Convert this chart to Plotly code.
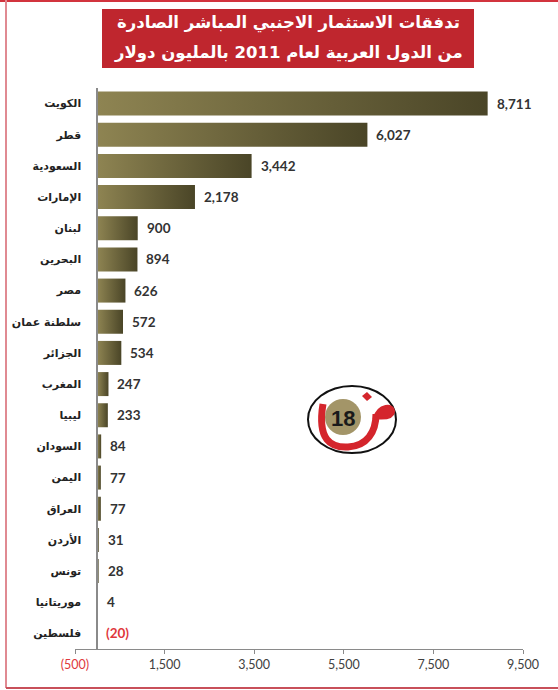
import plotly.graph_objects as go

# data (million USD, 2011)
countries = ["الكويت", "قطر", "السعودية", "الإمارات", "لبنان", "البحرين", "مصر",
             "سلطنة عمان", "الجزائر", "المغرب", "ليبيا", "السودان", "اليمن",
             "العراق", "الأردن", "تونس", "موريتانيا", "فلسطين"]
values = [8711, 6027, 3442, 2178, 900, 894, 626, 572, 534, 247, 233, 84, 77,
          77, 31, 28, 4, -20]
x_ticks = [-500, 1500, 3500, 5500, 7500, 9500]
title_lines = ["تدفقات الاستثمار الاجنبي المباشر الصادرة",
               "من الدول العربية لعام 2011 بالمليون دولار"]

W, H = 558, 690
L, R, T, B = 75, 523, 88, 649
X_MIN, X_MAX = -500, 9500
BAR_HALF = 0.385

LIGHT = "#8e8452"
DARK = "#4a4527"
RED = "#e0383c"


def px(x):
    return (x - L) / (R - L)


def py(y):
    return (B - y) / (B - T)


def fmt(v):
    s = f"{abs(v):,}"
    return f"({s})" if v < 0 else s


fig = go.Figure()

# one filled trace per bar so each gets its own left-to-right gradient
for i, v in enumerate(values):
    fig.add_trace(go.Scatter(
        x=[0, v, v, 0, 0],
        y=[i - BAR_HALF, i - BAR_HALF, i + BAR_HALF, i + BAR_HALF, i - BAR_HALF],
        mode="lines",
        line=dict(width=0),
        fill="toself",
        fillgradient=dict(type="horizontal",
                          colorscale=[[0, LIGHT], [1, DARK]]),
        hoverinfo="skip",
        showlegend=False,
    ))

# value labels
for i, v in enumerate(values):
    fig.add_annotation(
        x=max(v, 0), y=i, text=fmt(v), showarrow=False,
        xanchor="left", xshift=7,
        font=dict(family="Lato, Liberation Sans, sans-serif", size=13.5,
                  color=RED if v < 0 else "#333333", weight="bold"),
    )

tick_text = [f"<span style='color:{RED}'>{fmt(t)}</span>" if t < 0 else fmt(t)
             for t in x_ticks]

fig.update_layout(
    width=W, height=H,
    margin=dict(l=L, r=W - R, t=T, b=H - B),
    paper_bgcolor="white", plot_bgcolor="white",
    showlegend=False,
    xaxis=dict(
        range=[X_MIN, X_MAX], tickvals=x_ticks, ticktext=tick_text,
        showgrid=False, zeroline=False,
        showline=True, linecolor="#8a8a8a", linewidth=1,
        ticks="outside", ticklen=4, tickcolor="#8a8a8a",
        tickfont=dict(family="Lato, Liberation Sans, sans-serif", size=12.5,
                      color="#404040"),
    ),
    yaxis=dict(
        range=[len(countries) - 0.5, -0.5],
        tickvals=list(range(len(countries))), ticktext=countries,
        anchor="free", position=(0 - X_MIN) / (X_MAX - X_MIN),
        showgrid=False, zeroline=False,
        showline=True, linecolor="#8a8a8a", linewidth=2,
        ticks="", ticklabelstandoff=13,
        tickfont=dict(family="DejaVu Sans, sans-serif", size=11,
                      color="#222222", weight="bold"),
    ),
)

# title box
fig.add_shape(type="rect", xref="paper", yref="paper",
              x0=px(102), x1=px(474), y0=py(68), y1=py(9),
              fillcolor="#bf262e", line=dict(width=0), layer="above")
for k, line in enumerate(title_lines):
    fig.add_annotation(
        xref="paper", yref="paper", x=px(288), y=py(23 + 30 * k),
        text=line, showarrow=False, xanchor="center", yanchor="middle",
        font=dict(family="DejaVu Sans, sans-serif", size=16.5, color="white",
                  weight="bold"),
    )

# outer frame
fig.add_shape(type="line", xref="paper", yref="paper",
              x0=px(0), x1=px(W), y0=py(1), y1=py(1),
              line=dict(color="#d2343e", width=2))
fig.add_shape(type="line", xref="paper", yref="paper",
              x0=px(6), x1=px(6), y0=py(0), y1=py(688),
              line=dict(color="#e08a92", width=2))
fig.add_shape(type="line", xref="paper", yref="paper",
              x0=px(6), x1=px(W), y0=py(688), y1=py(688),
              line=dict(color="#c8505a", width=2))

# logo
fig.add_shape(type="circle", xref="paper", yref="paper",
              x0=px(308), x1=px(396), y0=py(453), y1=py(386),
              line=dict(color="#111111", width=2), fillcolor="white")
fig.add_shape(type="path", xref="paper", yref="paper",
              path=(f"M {px(323)},{py(404)} "
                    f"C {px(317)},{py(440)} {px(331)},{py(448)} {px(348)},{py(447)} "
                    f"C {px(367)},{py(446)} {px(376)},{py(432)} {px(376)},{py(414)}"),
              line=dict(color="#d4252c", width=7))
fig.add_shape(type="path", xref="paper", yref="paper",
              path=(f"M {px(374)},{py(418)} "
                    f"C {px(378)},{py(404)} {px(394)},{py(402)} {px(394)},{py(412)} "
                    f"C {px(393)},{py(419)} {px(382)},{py(419)} {px(374)},{py(418)} Z"),
              line=dict(color="#d4252c", width=2), fillcolor="#d4252c")
fig.add_shape(type="path", xref="paper", yref="paper",
              path=(f"M {px(362)},{py(396)} L {px(367)},{py(392)} "
                    f"L {px(372)},{py(397)} L {px(367)},{py(401)} Z"),
              line=dict(width=0), fillcolor="#d4252c")
fig.add_shape(type="circle", xref="paper", yref="paper",
              x0=px(325), x1=px(361), y0=py(435), y1=py(399),
              line=dict(width=0), fillcolor="#a39568")
fig.add_annotation(xref="paper", yref="paper", x=px(343), y=py(418),
                   text="18", showarrow=False,
                   font=dict(family="Liberation Sans, Arial, sans-serif",
                             size=22, color="#1a1a1a", weight="bold"))

# the page body has a default 8px margin; drop it so the figure sits at 0,0
fig.write_html("out.html", config={"displayModeBar": False},
               post_script="document.body.style.margin = '0';")
